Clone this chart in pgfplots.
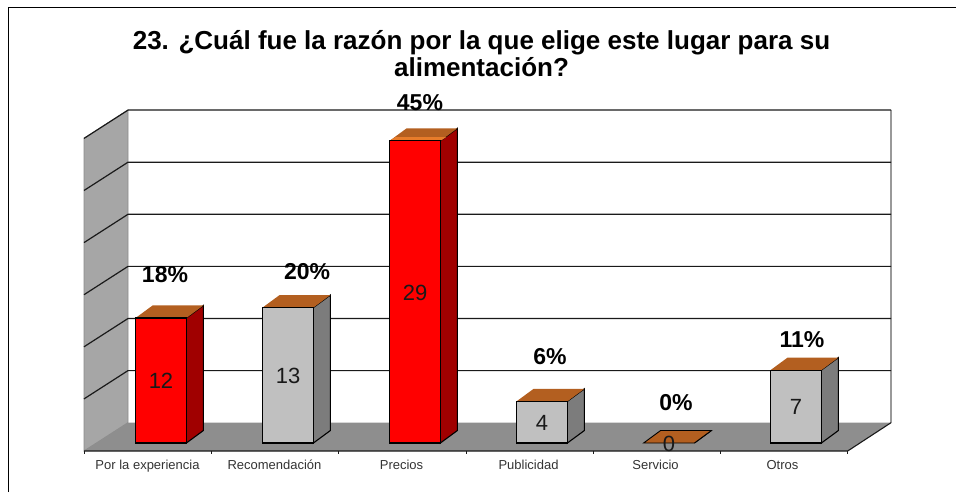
\documentclass[border=0pt]{standalone}
\usepackage{pgfplots}
\pgfplotsset{compat=1.18}
\usepackage{fontspec}
\setmainfont{Liberation Sans}
\definecolor{wallc}{HTML}{A6A6A6}
\definecolor{floorc}{HTML}{8E8E8E}
\definecolor{topc}{HTML}{B35F20}
\definecolor{topedge}{HTML}{E87C2A}
\definecolor{redside}{HTML}{A00000}
\definecolor{greyfront}{HTML}{C0C0C0}
\definecolor{greyside}{HTML}{7C7C7C}
\definecolor{edgec}{HTML}{1A1A1A}
\tikzset{vl/.style={font=\fontsize{22}{24}\selectfont,text=black!90},
  pl/.style={font=\fontsize{23}{25}\bfseries\selectfont}}
\newcommand\gridlevel[1]{%
  \pgfmathsetmacro\gb{#1+1.948}\pgfmathsetmacro\gf{#1-0.768}%
  \edef\tmp{\noexpand\addplot[edgec,line width=1.2pt] coordinates {(-0.6063,\gf)(-0.2598,\gb)(5.748,\gb)};}\tmp}
% side and top faces of a bar of value #2 at category #1
\newcommand\barfaces[4]{%
  \pgfmathsetmacro\xa{#1-0.2}\pgfmathsetmacro\xb{#1+0.2}%
  \pgfmathsetmacro\xc{#1-0.2+0.134}\pgfmathsetmacro\xd{#1+0.2+0.134}%
  \pgfmathsetmacro\yt{#2+1.2}\pgfmathsetmacro\yo{1.2}%
  \edef\tmp{\noexpand\addplot[fill=#3,draw=black,line width=1.1pt] coordinates {(\xb,0)(\xd,\yo)(\xd,\yt)(\xb,#2)} --cycle;}\tmp
  \edef\tmp{\noexpand\addplot[fill=topc,draw=#4,line width=0.9pt] coordinates {(\xa,#2)(\xc,\yt)(\xd,\yt)(\xb,#2)} --cycle;}\tmp}
\begin{document}
\begin{tikzpicture}
\begin{axis}[
  width=956pt,height=492pt,scale only axis,
  xmin=-1.26772,xmax=6.25984,ymin=-4.7025,ymax=42.514,
  axis line style={draw=none},tick style={draw=none},
  ytick=\empty,
  xtick={0,1,2,3,4,5},
  xticklabels={Por la experiencia,Recomendación,Precios,Publicidad,Servicio,Otros},
  xticklabel style={font=\fontsize{13}{15}\selectfont,text=black!80,text height=9pt,text depth=3pt,yshift=35pt,xshift=-13.5pt},
]
% frame
\addplot[black,line width=1pt] coordinates {(-1.2047,-4.7025)(-1.2047,41.84)(6.25984,41.84)};
% walls and floor
\addplot[fill=wallc,draw=black!45,line width=0.9pt] coordinates {(-0.6063,-0.768)(-0.2598,1.948)(-0.2598,31.948)(-0.6063,29.232)} --cycle;
\addplot[fill=floorc,draw=none] coordinates {(-0.6063,-0.768)(-0.2598,1.948)(5.748,1.948)(5.407,-0.768)} --cycle;
\addplot[draw=black!40,line width=1.2pt] coordinates {(5.748,1.948)(5.748,31.948)};
\gridlevel{5}\gridlevel{10}\gridlevel{15}\gridlevel{20}\gridlevel{25}\gridlevel{30}
% front edge of floor and ticks
\addplot[edgec,line width=1.1pt] coordinates {(-0.6063,-0.768)(5.407,-0.768)(5.748,1.948)};
\pgfplotsinvokeforeach{-0.6063,0.3961,1.3985,2.4009,3.4033,4.4057,5.407}{
  \addplot[edgec,line width=0.8pt] coordinates {(#1,-0.768)(#1,-1.1)};}
% bars: values
\barfaces{0}{12}{redside}{none}
\barfaces{1}{13}{greyside}{none}
\barfaces{2}{29}{redside}{none}
\barfaces{3}{4}{greyside}{none}
\barfaces{5}{7}{greyside}{none}
\barfaces{4}{0}{greyside}{black}
\addplot[fill=topedge,draw=none] coordinates {(1.8,29)(2.2,29)(2.245,29.35)(1.845,29.35)} --cycle;
\addplot[ybar,bar width=0.4,bar shift=0pt,fill=red,draw=black,line width=1.1pt] coordinates {(0,12)(2,29)};
\addplot[ybar,bar width=0.4,bar shift=0pt,fill=greyfront,draw=black,line width=1.1pt] coordinates {(1,13)(3,4)(5,7)};
% value labels
\node[vl] at (axis cs:0,5.95) {12};
\node[vl] at (axis cs:1,6.43) {13};
\node[vl] at (axis cs:2,14.4) {29};
\node[vl] at (axis cs:3,1.9) {4};
\node[vl] at (axis cs:4,-0.1) {0};
\node[vl] at (axis cs:5,3.45) {7};
\node[pl] at (axis cs:0.0315,16.12) {18\%};
\node[pl] at (axis cs:1.15,16.41) {20\%};
\node[pl] at (axis cs:2.039,32.63) {45\%};
\node[pl] at (axis cs:3.063,8.25) {6\%};
\node[pl] at (axis cs:4.055,3.84) {0\%};
\node[pl] at (axis cs:5.047,9.88) {11\%};
\node[align=center,font=\fontsize{26}{27}\bfseries\selectfont] at (axis cs:2.5236,37.33) {23. ¿Cuál fue la razón por la que elige este lugar para su\\alimentación?};
\end{axis}
\end{tikzpicture}
\end{document}
